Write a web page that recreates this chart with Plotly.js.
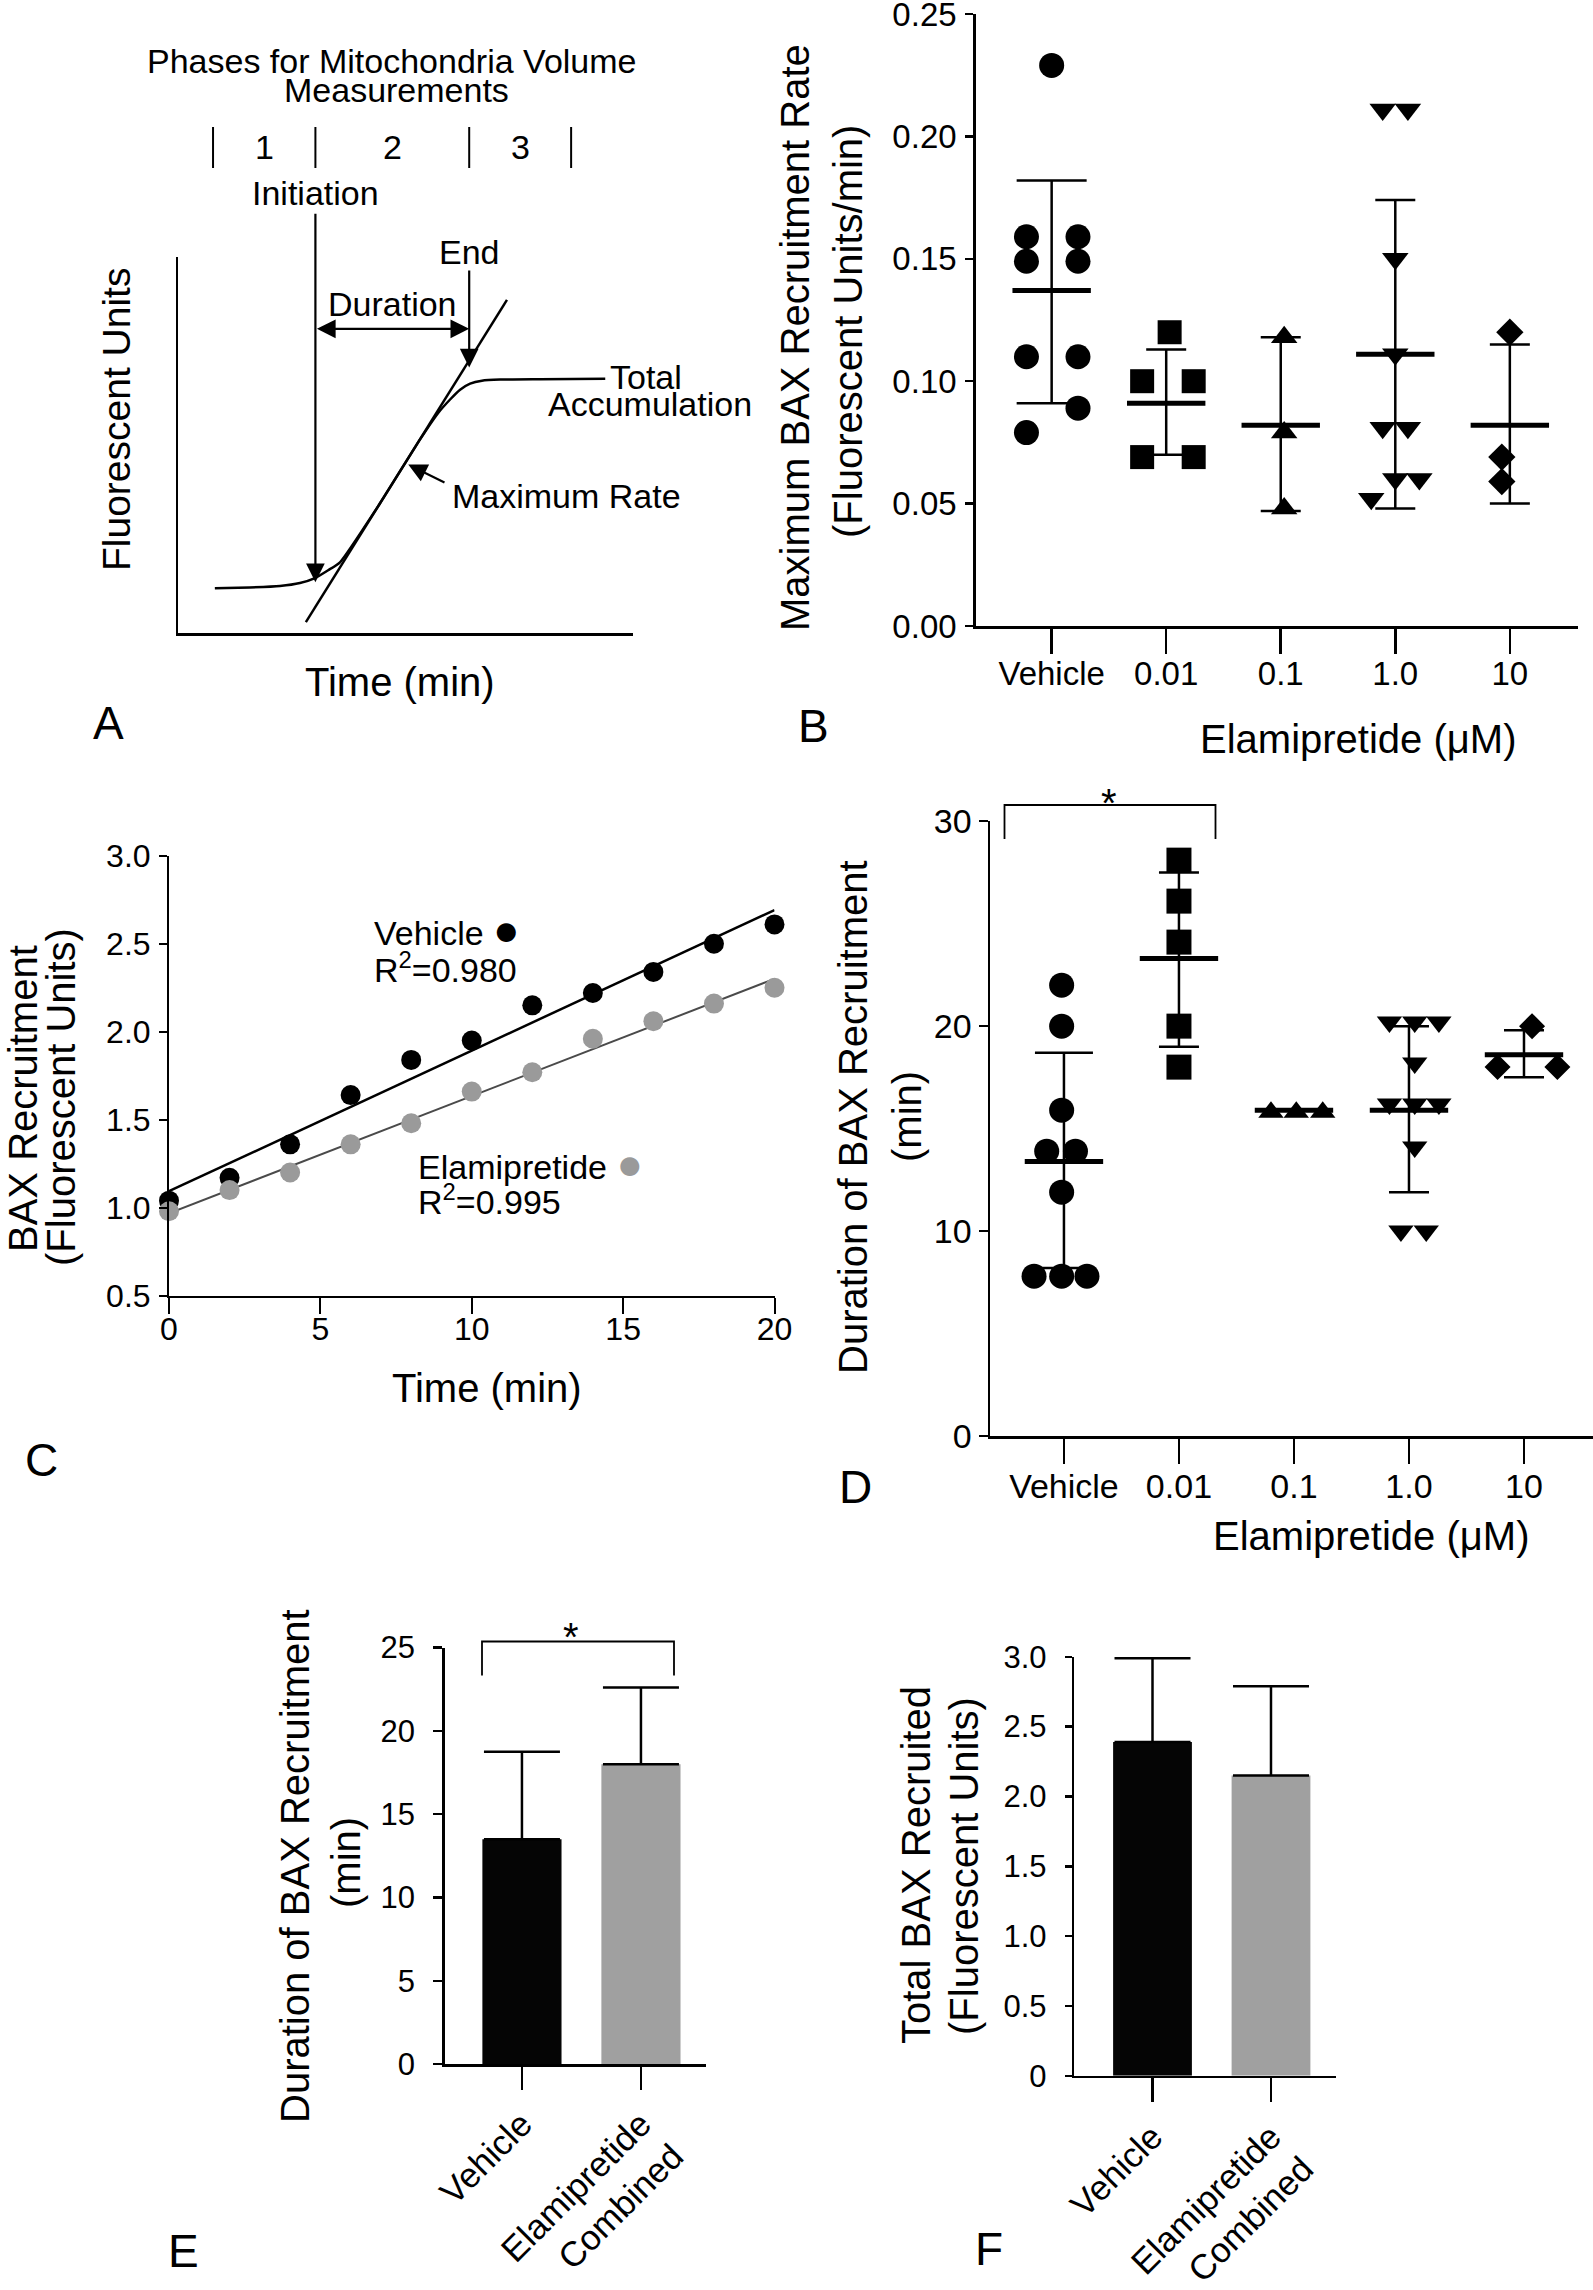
<!DOCTYPE html>
<html>
<head>
<meta charset="utf-8">
<script src="https://cdn.plot.ly/plotly-3.0.1.min.js"></script>
<style>
html,body{margin:0;padding:0;background:#ffffff;}
#fig{width:1593px;height:2290px;}
</style>
</head>
<body>
<div id="fig"></div>
<script>
// ================= DATA =================
// Panel A: schematic curve (arbitrary time / fluorescence units)
const schemTime   = [8.1, 15.8, 22.4, 26.8, 30.1, 33.0, 35.6, 44.4, 53.2, 57.1, 59.8, 62.0, 64.2, 66.8, 70.8, 79.6, 93.9];
const schemSignal = [11.9, 12.1, 12.5, 13.3, 14.6, 16.7, 18.8, 34.5, 51.5, 58.4, 62.1, 64.7, 66.3, 67.1, 67.4, 67.5, 67.6];
const tangentTime   = [28.1, 72.3];
const tangentSignal = [2.9, 88.6];
const phaseBounds = [7.7, 30.2, 64.0, 86.4];
const phaseLabels = ['1', '2', '3'];

// Panel B: maximum BAX recruitment rate (fluorescent units/min)
const doseLabels = ['Vehicle', '0.01', '0.1', '1.0', '10'];
const rateVehicle = [0.229, 0.159, 0.159, 0.149, 0.149, 0.110, 0.110, 0.089, 0.079];
const rate001 = [0.120, 0.100, 0.100, 0.069, 0.069];
const rate01  = [0.118, 0.079, 0.048];
const rate1   = [0.211, 0.211, 0.150, 0.111, 0.081, 0.081, 0.060, 0.060, 0.052];
const rate10  = [0.120, 0.069, 0.059];
const rateMean    = [0.137, 0.091, 0.082, 0.111, 0.082];
const rateSdUpper = [0.182, 0.113, 0.118, 0.174, 0.115];
const rateSdLower = [0.091, 0.070, 0.047, 0.048, 0.050];

// Panel C: BAX recruitment time course
const timeMin = [0, 2, 4, 6, 8, 10, 12, 14, 16, 18, 20];
const recruitVehicle = [1.04, 1.17, 1.36, 1.64, 1.84, 1.95, 2.15, 2.22, 2.34, 2.50, 2.61];
const recruitElami   = [0.98, 1.10, 1.20, 1.36, 1.48, 1.66, 1.77, 1.96, 2.06, 2.16, 2.25];
const r2Vehicle = '0.980';
const r2Elami = '0.995';

// Panel D: duration of BAX recruitment (min)
const durVehicle = [22.0, 20.0, 15.9, 13.9, 13.9, 11.9, 7.8, 7.8, 7.8];
const dur001 = [28.1, 26.1, 24.1, 20.0, 18.0];
const dur01  = [15.8, 15.8, 15.8];
const dur1   = [20.2, 20.2, 20.2, 18.2, 16.2, 16.2, 16.2, 14.1, 10.0, 10.0];
const dur10  = [20.0, 18.0, 18.0];
const durMean    = [13.4, 23.3, 15.9, 15.9, 18.6];
const durSdUpper = [18.7, 27.5, 15.9, 20.0, 19.8];
const durSdLower = [8.2, 19.0, 15.9, 11.9, 17.5];

// Panels E and F: combined groups
const comboLabels = ['Vehicle', 'Elamipretide<br>Combined'];
const durationMean = [13.5, 18.0];
const durationSd   = [5.25, 4.6];
const totalMean = [2.39, 2.15];
const totalSd   = [0.60, 0.64];

// horizontal spread of scatter points inside a group (category units)
const jitterB = [
  [0, -0.22, 0.23, -0.22, 0.23, -0.22, 0.23, 0.23, -0.22],
  [0.03, -0.21, 0.24, -0.21, 0.24],
  [0.03, 0.03, 0.03],
  [-0.11, 0.11, 0, 0, -0.11, 0.11, 0, 0.21, -0.21],
  [0, -0.07, -0.07]
];
const jitterD = [
  [-0.02, -0.02, -0.02, -0.15, 0.10, -0.02, -0.26, -0.02, 0.20],
  [0, 0, 0, 0, 0],
  [-0.20, 0.02, 0.25],
  [-0.17, 0.05, 0.26, 0.05, -0.17, 0.05, 0.26, 0.05, -0.07, 0.15],
  [0.07, -0.23, 0.29]
];

// ================= STYLE / LAYOUT =================
const W = 1593, H = 2290;
const FONT = '"Liberation Sans", Arial, Helvetica, sans-serif';
const BLACK = '#000000';
const GRAY_BAR = '#a0a0a0';
const GRAY_DOT = '#9a9a9a';
const GRAY_LINE = '#4a4a4a';
const fx = x => x / W;
const fy = y => 1 - y / H;

function axis(o) {
  return Object.assign({
    showline: true, linecolor: BLACK, linewidth: 2.5,
    ticks: 'outside', tickcolor: BLACK, tickwidth: 2.5,
    showgrid: false, zeroline: false, fixedrange: true,
    ticklabeloverflow: 'allow',
    tickfont: {family: FONT, size: 34, color: BLACK}
  }, o);
}
function toPaper(ax, v) {
  return ax.domain[0] + (v - ax.range[0]) / (ax.range[1] - ax.range[0]) * (ax.domain[1] - ax.domain[0]);
}

const layout = {
  width: W, height: H,
  margin: {l: 0, r: 0, t: 0, b: 0},
  paper_bgcolor: '#ffffff', plot_bgcolor: 'rgba(0,0,0,0)',
  showlegend: false,
  font: {family: FONT, color: BLACK},
  // A
  xaxis:  axis({domain: [fx(178), fx(633)], range: [0, 100], ticks: '', showticklabels: false, anchor: 'y'}),
  yaxis:  axis({domain: [fy(633), fy(257)], range: [0, 100], ticks: '', showticklabels: false, anchor: 'x'}),
  // B
  xaxis2: axis({domain: [fx(975.7), fx(1578)], range: [-0.663, 4.595], tickmode: 'array',
                tickvals: [0, 1, 2, 3, 4], ticktext: doseLabels, ticklen: 25, ticklabelstandoff: -8,
                tickfont: {family: FONT, size: 33, color: BLACK}, anchor: 'y2'}),
  yaxis2: axis({domain: [fy(626), fy(14)], range: [0, 0.25], tickmode: 'array',
                tickvals: [0, 0.05, 0.10, 0.15, 0.20, 0.25], tickformat: '.2f', ticklen: 8, ticklabelstandoff: 2,
                tickfont: {family: FONT, size: 33, color: BLACK}, anchor: 'x2'}),
  // C
  xaxis3: axis({domain: [fx(169), fx(774.5)], range: [0, 20], dtick: 5, tick0: 0, ticklen: 16, ticklabelstandoff: -12,
                linewidth: 2, tickwidth: 2, tickfont: {family: FONT, size: 32, color: BLACK}, anchor: 'y3'}),
  yaxis3: axis({domain: [fy(1295.7), fy(855.8)], range: [0.5, 3.0], dtick: 0.5, tick0: 0.5, tickformat: '.1f',
                ticklen: 8, ticklabelstandoff: 2, linewidth: 2, tickwidth: 2,
                tickfont: {family: FONT, size: 32, color: BLACK}, anchor: 'x3'}),
  // D
  xaxis4: axis({domain: [fx(990), 1], range: [-0.643, 4.6], tickmode: 'array',
                tickvals: [0, 1, 2, 3, 4], ticktext: doseLabels, ticklen: 25, ticklabelstandoff: -6, anchor: 'y4'}),
  yaxis4: axis({domain: [fy(1436), fy(821.2)], range: [0, 30], dtick: 10, tick0: 0, ticklen: 9, anchor: 'x4'}),
  // E
  xaxis5: axis({domain: [fx(444.6), fx(706.4)], range: [-0.65, 1.55], tickmode: 'array',
                tickvals: [0, 1], ticktext: comboLabels, tickangle: -45, ticklen: 23,
                tickfont: {family: FONT, size: 35, color: BLACK}, anchor: 'y5'}),
  yaxis5: axis({domain: [fy(2064.2), fy(1647.5)], range: [0, 25], dtick: 5, tick0: 0, ticklen: 9,
                ticklabelstandoff: 12, tickfont: {family: FONT, size: 31, color: BLACK}, anchor: 'x5'}),
  // F
  xaxis6: axis({domain: [fx(1074.3), fx(1336.4)], range: [-0.66, 1.552], tickmode: 'array',
                tickvals: [0, 1], ticktext: comboLabels, tickangle: -45, ticklen: 24,
                tickfont: {family: FONT, size: 35, color: BLACK}, anchor: 'y6'}),
  yaxis6: axis({domain: [fy(2075.8), fy(1656.8)], range: [0, 3], tickmode: 'array',
                tickvals: [0, 0.5, 1, 1.5, 2, 2.5, 3], ticktext: ['0', '0.5', '1.0', '1.5', '2.0', '2.5', '3.0'],
                ticklen: 7, ticklabelstandoff: 12, tickfont: {family: FONT, size: 31, color: BLACK}, anchor: 'x6'}),
  shapes: [],
  annotations: []
};

function txt(text, x, y, size, opts) {
  layout.annotations.push(Object.assign({
    text: text, xref: 'paper', yref: 'paper', x: fx(x), y: fy(y),
    xanchor: 'center', yanchor: 'middle', showarrow: false,
    font: {family: FONT, size: size, color: BLACK}
  }, opts || {}));
}
function arrow(hx, hy, tx, ty, side) {
  // head and tail in panel-A schematic units
  const pxX = (layout.xaxis.domain[1] - layout.xaxis.domain[0]) * W / (layout.xaxis.range[1] - layout.xaxis.range[0]);
  const pxY = (layout.yaxis.domain[1] - layout.yaxis.domain[0]) * H / (layout.yaxis.range[1] - layout.yaxis.range[0]);
  layout.annotations.push({
    xref: 'x', yref: 'y', x: hx, y: hy, ax: (tx - hx) * pxX, ay: -(ty - hy) * pxY,
    text: '', showarrow: true, arrowhead: 2, arrowsize: 1.7, arrowwidth: 2.2,
    arrowcolor: BLACK, arrowside: side || 'end', standoff: 0, startstandoff: 0
  });
}
function schemLabel(text, xData, yPx) {
  layout.annotations.push({text: text, xref: 'x', yref: 'paper', x: xData, y: fy(yPx), showarrow: false,
    xanchor: 'center', yanchor: 'middle', font: {family: FONT, size: 34, color: BLACK}});
}

const traces = [];

// ---------- Panel A ----------
traces.push({type: 'scatter', mode: 'lines', xaxis: 'x', yaxis: 'y', x: schemTime, y: schemSignal,
  line: {color: BLACK, width: 2.5, shape: 'spline', smoothing: 0.5}, hoverinfo: 'skip'});
traces.push({type: 'scatter', mode: 'lines', xaxis: 'x', yaxis: 'y', x: tangentTime, y: tangentSignal,
  line: {color: BLACK, width: 2.5}, hoverinfo: 'skip'});
phaseBounds.forEach(b => {
  const xp = toPaper(layout.xaxis, b);
  layout.shapes.push({type: 'line', xref: 'paper', yref: 'paper', x0: xp, x1: xp, y0: fy(127), y1: fy(168),
    line: {color: BLACK, width: 2}});
});
phaseLabels.forEach((lab, i) => schemLabel(lab, (phaseBounds[i] + phaseBounds[i + 1]) / 2, 147));
const tInit = phaseBounds[1], tEnd = phaseBounds[2];
arrow(tInit, 13.5, tInit, 111.9);
arrow(tEnd, 70.6, tEnd, 96.8);
arrow(tEnd, 80.9, tInit, 80.9, 'end+start');
arrow(50.6, 44.8, 58.9, 39.8);
schemLabel('Initiation', tInit, 193);
schemLabel('End', tEnd, 252);
schemLabel('Duration', (tInit + tEnd) / 2, 304);
txt('Phases for Mitochondria Volume', 391, 61, 34);
txt('Measurements', 396, 90, 34);
txt('Total', 608, 377, 34, {xanchor: 'left'});
txt('Accumulation', 650, 404, 34);
txt('Maximum Rate', 566, 496, 34);
txt('Fluorescent Units', 117, 420, 39, {textangle: -90});
txt('Time (min)', 400, 682, 40);
txt('A', 108, 723, 46);

// ---------- Panel B ----------
const rateGroups = [rateVehicle, rate001, rate01, rate1, rate10];
const groupSymbols = ['circle', 'square', 'triangle-up', 'triangle-down', 'diamond'];
const symSize = [25, 24, 23, 23, 21];
rateGroups.forEach((vals, g) => {
  traces.push({type: 'scatter', mode: 'markers', xaxis: 'x2', yaxis: 'y2',
    x: vals.map((v, k) => g + jitterB[g][k]), y: vals,
    marker: {symbol: groupSymbols[g], size: symSize[g], color: BLACK, line: {width: 0}},
    cliponaxis: false, hoverinfo: 'skip'});
  traces.push({type: 'scatter', mode: 'markers', xaxis: 'x2', yaxis: 'y2', x: [g], y: [rateMean[g]],
    marker: {symbol: 'line-ew', size: 56, color: BLACK, line: {color: BLACK, width: 5}},
    error_y: {type: 'data', symmetric: false, array: [rateSdUpper[g] - rateMean[g]],
      arrayminus: [rateMean[g] - rateSdLower[g]], color: BLACK, thickness: 2.5, width: g === 0 ? 35 : 20},
    cliponaxis: false, hoverinfo: 'skip'});
});
txt('Maximum BAX Recruitment Rate', 795, 338, 40, {textangle: -90});
txt('(Fluorescent Units/min)', 848, 332, 40, {textangle: -90});
txt('Elamipretide (\u03bcM)', 1358, 739, 40);
txt('B', 813, 726, 46);

// ---------- Panel C ----------
function linFit(xs, ys) {
  const n = xs.length;
  const mx = xs.reduce((a, b) => a + b, 0) / n;
  const my = ys.reduce((a, b) => a + b, 0) / n;
  let sxy = 0, sxx = 0;
  for (let i = 0; i < n; i++) { sxy += (xs[i] - mx) * (ys[i] - my); sxx += (xs[i] - mx) * (xs[i] - mx); }
  const slope = sxy / sxx;
  const icpt = my - slope * mx;
  const x0 = xs[0], x1 = xs[n - 1];
  return {x: [x0, x1], y: [icpt + slope * x0, icpt + slope * x1]};
}
const fitV = linFit(timeMin, recruitVehicle);
const fitE = linFit(timeMin, recruitElami);
traces.push({type: 'scatter', mode: 'lines', xaxis: 'x3', yaxis: 'y3', x: fitV.x, y: fitV.y,
  line: {color: BLACK, width: 2.5}, cliponaxis: false, hoverinfo: 'skip'});
traces.push({type: 'scatter', mode: 'lines', xaxis: 'x3', yaxis: 'y3', x: fitE.x, y: fitE.y,
  line: {color: GRAY_LINE, width: 2}, cliponaxis: false, hoverinfo: 'skip'});
traces.push({type: 'scatter', mode: 'markers', xaxis: 'x3', yaxis: 'y3', x: timeMin, y: recruitVehicle,
  marker: {color: BLACK, size: 20}, cliponaxis: false, hoverinfo: 'skip'});
traces.push({type: 'scatter', mode: 'markers', xaxis: 'x3', yaxis: 'y3', x: timeMin, y: recruitElami,
  marker: {color: GRAY_DOT, size: 20}, cliponaxis: false, hoverinfo: 'skip'});
txt('Vehicle <span style="color:#000000;font-size:44px">\u25CF</span>', 372, 929, 34, {xanchor: 'left'});
txt('R<sup>2</sup>=' + r2Vehicle, 372, 967, 34, {xanchor: 'left'});
txt('Elamipretide <span style="color:' + GRAY_DOT + ';font-size:44px">\u25CF</span>', 416, 1163, 34, {xanchor: 'left'});
txt('R<sup>2</sup>=' + r2Elami, 416, 1199, 34, {xanchor: 'left'});
txt('BAX Recruitment', 23, 1099, 40, {textangle: -90});
txt('(Fluorescent Units)', 61, 1097, 40, {textangle: -90});
txt('Time (min)', 487, 1388, 40);
txt('C', 41, 1460, 46);

// ---------- Panel D ----------
const durGroups = [durVehicle, dur001, dur01, dur1, dur10];
const symSizeD = [25, 25, 22, 22, 20];
durGroups.forEach((vals, g) => {
  traces.push({type: 'scatter', mode: 'markers', xaxis: 'x4', yaxis: 'y4',
    x: vals.map((v, k) => g + jitterD[g][k]), y: vals,
    marker: {symbol: groupSymbols[g], size: symSizeD[g], color: BLACK, line: {width: 0}},
    cliponaxis: false, hoverinfo: 'skip'});
  traces.push({type: 'scatter', mode: 'markers', xaxis: 'x4', yaxis: 'y4', x: [g], y: [durMean[g]],
    marker: {symbol: 'line-ew', size: 56, color: BLACK, line: {color: BLACK, width: 5}},
    error_y: {type: 'data', symmetric: false, array: [durSdUpper[g] - durMean[g]],
      arrayminus: [durMean[g] - durSdLower[g]], color: BLACK, thickness: 2.5, width: g === 0 ? 29 : 20},
    cliponaxis: false, hoverinfo: 'skip'});
});
layout.shapes.push({type: 'path', xref: 'paper', yref: 'paper', line: {color: BLACK, width: 1.8},
  path: 'M' + fx(1004.5) + ',' + fy(839) + ' L' + fx(1004.5) + ',' + fy(805) + ' L' + fx(1215.5) + ',' + fy(805) + ' L' + fx(1215.5) + ',' + fy(839)});
txt('*', 1109, 803, 40);
txt('Duration of BAX Recruitment', 853, 1117, 40, {textangle: -90});
txt('(min)', 907, 1116, 40, {textangle: -90});
txt('Elamipretide (\u03bcM)', 1371, 1536, 40);
txt('D', 855, 1487, 46);

// ---------- Panel E ----------
traces.push({type: 'bar', xaxis: 'x5', yaxis: 'y5', x: [0, 1], y: durationMean, width: 0.665,
  marker: {color: ['#050505', GRAY_BAR], line: {width: 0}},
  error_y: {type: 'data', symmetric: false, array: durationSd, arrayminus: [0, 0], color: BLACK, thickness: 2.5, width: 38},
  hoverinfo: 'skip'});
layout.shapes.push({type: 'path', xref: 'paper', yref: 'paper', line: {color: BLACK, width: 1.8},
  path: 'M' + fx(482) + ',' + fy(1675.5) + ' L' + fx(482) + ',' + fy(1641.5) + ' L' + fx(674) + ',' + fy(1641.5) + ' L' + fx(674) + ',' + fy(1675.5)});
txt('*', 571, 1637, 40);
txt('Duration of BAX Recruitment', 295, 1866, 40, {textangle: -90});
txt('(min)', 346, 1863, 40, {textangle: -90});
txt('E', 183, 2251, 46);

// ---------- Panel F ----------
traces.push({type: 'bar', xaxis: 'x6', yaxis: 'y6', x: [0, 1], y: totalMean, width: 0.665,
  marker: {color: ['#050505', GRAY_BAR], line: {width: 0}},
  error_y: {type: 'data', symmetric: false, array: totalSd, arrayminus: [0, 0], color: BLACK, thickness: 2.5, width: 38},
  hoverinfo: 'skip'});
txt('Total BAX Recruited', 916, 1865, 40, {textangle: -90});
txt('(Fluorescent Units)', 964, 1866, 40, {textangle: -90});
txt('F', 989, 2249, 46);

Plotly.newPlot('fig', traces, layout, {staticPlot: true, displayModeBar: false});
</script>
</body>
</html>
